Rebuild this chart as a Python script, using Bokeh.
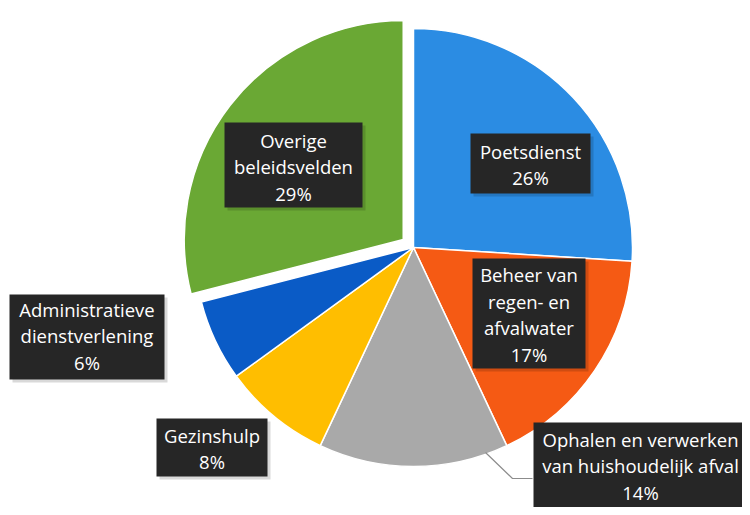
import math
from bokeh.plotting import figure
from bokeh.models import Range1d, ColumnDataSource
from bokeh.core.properties import value
from bokeh.embed import file_html
from bokeh.resources import INLINE

# ---- data (clockwise from 12 o'clock) ----
names = [
    "Poetsdienst",
    "Beheer van\nregen- en\nafvalwater",
    "Ophalen en verwerken\nvan huishoudelijk afval",
    "Gezinshulp",
    "Administratieve\ndienstverlening",
    "Overige\nbeleidsvelden",
]
percents = [26, 17, 14, 8, 6, 29]
colors = ["#2B8CE3", "#F55A14", "#A9A9A9", "#FFBE00", "#0A5BC6", "#6AA834"]
exploded = [0, 0, 0, 0, 0, 13]

# ---- layout (image pixel coordinates) ----
PW, PH = 742, 507
H = 515
def Y(y):
    return H - y

cx, cy, R = 413, 247, 219
# label boxes: (left, top, right, bottom), text centre (x, y)
boxes = [
    (470, 133, 590, 193, 530, 164),
    (472, 258, 585, 368, 528.5, 314),
    (533, 422, 750, 525, 640, 465),
    (156, 418, 267, 476, 211.5, 448),
    (9, 294, 164, 379, 86.5, 335),
    (224, 122, 362, 207, 293, 166),
]
leader = ([485, 512, 532], [452, 478, 478])

p = figure(width=PW, height=PH, x_range=Range1d(0, PW), y_range=Range1d(Y(PH), Y(0)),
           output_backend="svg", toolbar_location=None, min_border=0)
p.axis.visible = False
p.grid.visible = False
p.outline_line_color = None
p.background_fill_color = "white"

total = sum(percents)
cum = 0.0
xs, ys, starts, ends = [], [], [], []
for v, off in zip(percents, exploded):
    a0 = math.pi / 2 - 2 * math.pi * cum / total
    cum += v
    a1 = math.pi / 2 - 2 * math.pi * cum / total
    mid = (a0 + a1) / 2
    xs.append(cx + off * math.cos(mid))
    ys.append(Y(cy) + off * math.sin(mid))
    starts.append(a0)
    ends.append(a1)

src = ColumnDataSource(dict(x=xs, y=ys, start=starts, end=ends, color=colors))
p.wedge(x="x", y="y", radius=R, radius_units="screen", start_angle="start", end_angle="end",
        direction="clock", fill_color="color", line_color="white", line_width=1.5, source=src)

# leader line
p.line(x=leader[0], y=[Y(v) for v in leader[1]], line_color="#8c8c8c", line_width=1.2)

# label boxes
lsrc = ColumnDataSource(dict(
    l=[b[0] for b in boxes], r=[b[2] for b in boxes],
    t=[Y(b[1]) for b in boxes], b=[Y(b[3]) for b in boxes],
    sl=[b[0] + 3 for b in boxes], sr=[b[2] + 3 for b in boxes],
    st=[Y(b[1]) - 3 for b in boxes], sb=[Y(b[3]) - 3 for b in boxes],
    tx=[b[4] for b in boxes], ty=[Y(b[5]) for b in boxes],
    label=[f"{n}\n{v}%" for n, v in zip(names, percents)],
))
p.quad(left="sl", right="sr", top="st", bottom="sb", fill_color="#000000", fill_alpha=0.15,
       line_color=None, source=lsrc)
p.quad(left="l", right="r", top="t", bottom="b", fill_color="#262626", line_color=None, source=lsrc)
p.text(x="tx", y="ty", text="label", text_font=value("Open Sans"), text_font_size="18.5px",
       text_color="white", text_align="center", text_baseline="middle", text_line_height=1.06,
       source=lsrc)

open("out.html", "w").write(file_html(p, INLINE))
